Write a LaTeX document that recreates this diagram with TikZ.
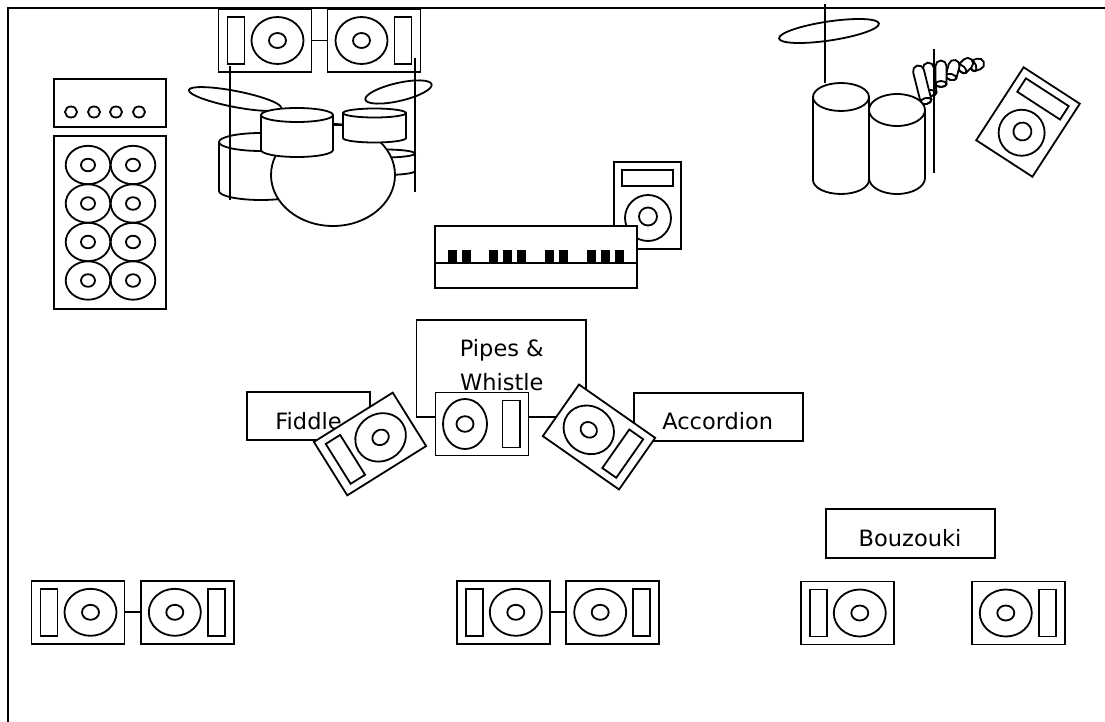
\documentclass[tikz,border=0pt]{standalone}
\usepackage{fontspec}
\setmainfont{DejaVu Sans}
\newcommand\drumcyl[5]{% cx rx ytop ybot ry
  \filldraw[fill=white] ({#1-#2},#3) -- ({#1-#2},#4) arc[start angle=180,end angle=360,x radius=#2pt,y radius=#5pt] -- ({#1+#2},#3);
  \filldraw[fill=white] (#1,#3) ellipse[x radius=#2pt,y radius=#5pt];}
\newcommand\chimebar[4]{% bx by angle length
  \begin{scope}[shift={(#1,#2)},rotate=#3]
    \filldraw[fill=white] (-5.5,0) -- (-5.5,-#4) arc[start angle=180,end angle=0,radius=5.5pt] -- (5.5,0) arc[start angle=0,end angle=-180,x radius=5.5pt,y radius=3pt] -- cycle;
    \draw (0,0) ellipse[x radius=5.5pt,y radius=3pt];
  \end{scope}}
\tikzset{
  monL/.pic={
    \filldraw[fill=white] (-46.5,-31.5) rectangle (46.5,31.5);
    \draw (-37.5,-23.5) rectangle (-20.5,23.5);
    \draw (12.5,0) ellipse[x radius=26pt,y radius=23.5pt];
    \draw (12.5,0) ellipse[x radius=8.5pt,y radius=7.5pt];
  },
  monR/.pic={
    \filldraw[fill=white] (-46.5,-31.5) rectangle (46.5,31.5);
    \draw (20.5,-23.5) rectangle (37.5,23.5);
    \draw (-12.5,0) ellipse[x radius=26pt,y radius=23.5pt];
    \draw (-12.5,0) ellipse[x radius=8.5pt,y radius=7.5pt];
  },
  monC/.pic={
    \filldraw[fill=white] (-46.5,-31.5) rectangle (46.5,31.5);
    \draw (20.5,-23.5) rectangle (38,23.5);
    \draw (-17,0) ellipse[x radius=22pt,y radius=25pt];
    \draw (-17,0) ellipse[x radius=8.5pt,y radius=7.8pt];
  },
  ampbox/.pic={
    \filldraw[fill=white] (-33.5,-43.5) rectangle (33.5,43.5);
    \draw (-25.5,-35.5) rectangle (25.5,-19.5);
    \draw (0.5,12.5) circle[radius=23pt];
    \draw (0.5,11) circle[radius=9pt];
  },
  lbl/.style={font=\fontsize{22.5}{27}\selectfont, inner sep=0pt, anchor=base},
  boxed/.style={draw, fill=white}
}
\begin{document}
\begin{tikzpicture}[x=1pt,y=-1pt,line width=1.8pt]
\useasboundingbox (0,0) rectangle (1105,722);
% stage border
\draw[line width=2.2pt] (1110,8) -- (8,8) -- (8,727);

% bass amp head and cabinet
\draw (54,79) rectangle (166,127);
\foreach \x in {71,94,116,139} \draw (\x,112) ellipse[x radius=6pt,y radius=5.5pt];
\draw (54,136) rectangle (166,309);
\foreach \y in {165,203.5,242,280.5} {
  \foreach \x in {88,133} {
    \draw (\x,\y) ellipse[x radius=22.3pt,y radius=19.2pt];
    \draw (\x,\y) ellipse[x radius=7pt,y radius=6.3pt];
  }
}

% drum monitors
\pic at (265,40.5) {monL};
\pic at (374,40.5) {monR};
\draw (311.5,40.5) -- (327.5,40.5);

% drum kit
\drumcyl{261}{42}{142}{191}{9}
\drumcyl{385}{30}{153.5}{171}{4}
\filldraw[fill=white] (333,175) ellipse[x radius=62pt,y radius=51pt];
\filldraw[fill=white,rotate around={-11:(235,99)}] (235,99) ellipse[x radius=47pt,y radius=8pt];
\filldraw[fill=white,rotate around={13:(398.5,92)}] (398.5,92) ellipse[x radius=34pt,y radius=9pt];
\drumcyl{297}{36}{115}{150}{7}
\drumcyl{374.5}{31.5}{113}{138}{4.5}
\draw (333,125) -- (343,125);
\draw (230,66) -- (230,200);
\draw (415,58) -- (415,192);

% keyboard and its amp
\pic at (647.5,205.5) {ampbox};
\filldraw[fill=white] (435,226) rectangle (637,288);
\draw (435,263) -- (637,263);
\foreach \x in {447.7,461.7,489.3,503.3,517.3,545,559,586.7,600.7,614.7}
  \fill (\x,250) rectangle +(9,13.3);

% percussion
\filldraw[fill=white,rotate around={8.5:(829,31)}] (829,31) ellipse[x radius=50.5pt,y radius=9.5pt];
\draw (825,4) -- (825,83);
\drumcyl{841}{28}{97}{180}{14}
\chimebar{973}{66}{-70}{6}
\chimebar{962}{69}{-45}{8}
\chimebar{951}{77}{-15}{12}
\chimebar{941}{84}{0}{18}
\chimebar{931}{93}{6}{25}
\chimebar{926}{101}{14}{31}
\drumcyl{897}{28}{110}{178}{16}
\draw (934,49) -- (934,173);
\pic[rotate=-33] at (1028,122) {ampbox};

% front line
\node[boxed, minimum width=169.5pt, minimum height=96.7pt, inner sep=0pt] (pipes) at (501.2,368.3) {};
\node[boxed, minimum width=122.4pt, minimum height=48.3pt, inner sep=0pt] (fiddlebox) at (308.5,415.8) {};
\node[boxed, minimum width=168.6pt, minimum height=48pt, inner sep=0pt] (accbox) at (718.3,416.7) {};
\node[lbl] (pipesA) at (501.8,356.7) {Pipes \&};
\node[lbl] (pipesB) at (501.8,390) {Whistle};
\node[lbl] (fiddle) at (308.5,429.3) {Fiddle};
\node[lbl] (accordion) at (717.7,429.3) {Accordion};
\pic[rotate=32] at (370,444) {monL};
\pic at (482,424) {monC};
\pic[rotate=-35] at (599,437) {monR};

% bouzouki
\node[boxed, minimum width=169.3pt, minimum height=49pt, inner sep=0pt] (bouzbox) at (910.3,533.8) {};
\node[lbl] (bouzouki) at (910,546) {Bouzouki};

% floor monitors
\pic at (78,612.3) {monL};
\pic at (187.3,612.3) {monR};
\draw (124.5,612.3) -- (141,612.3);
\pic at (503.3,612.3) {monL};
\pic at (612.7,612.3) {monR};
\draw (549.8,612.3) -- (566.2,612.3);
\pic at (847.3,613) {monL};
\pic at (1018.3,613) {monR};
\end{tikzpicture}
\end{document}
